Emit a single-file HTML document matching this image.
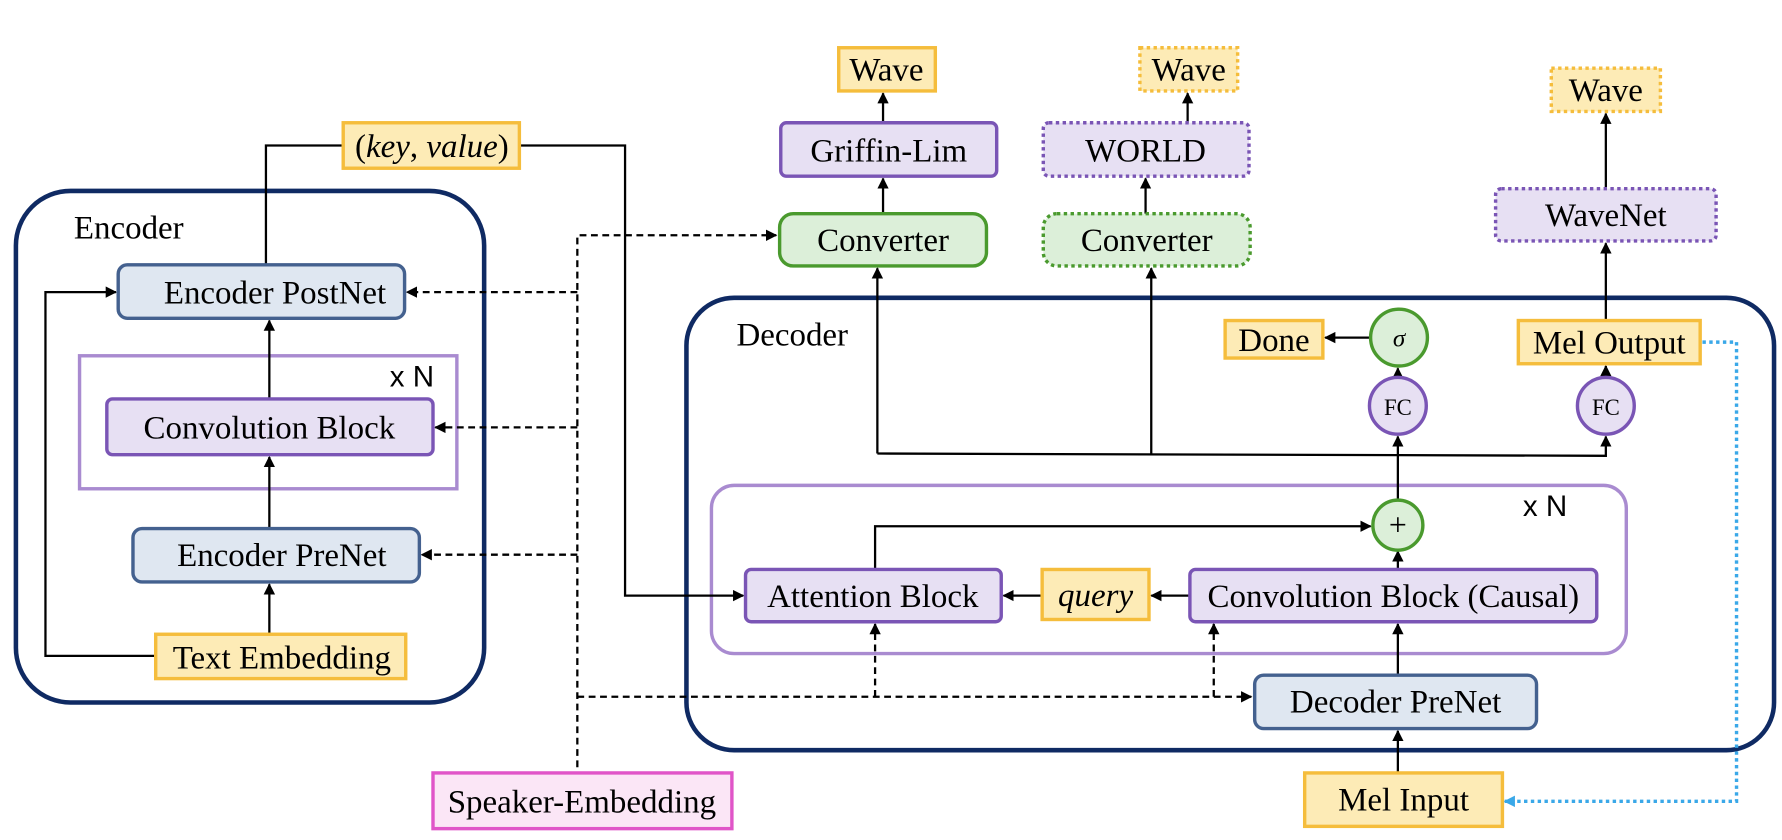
<!DOCTYPE html>
<html><head><meta charset="utf-8"><style>body{margin:0;background:#fff}svg{display:block}</style></head><body>
<svg width="1782" height="840" viewBox="0 0 1568 739" preserveAspectRatio="none" xmlns="http://www.w3.org/2000/svg" font-family="Liberation Serif, serif" font-size="29">
<defs>
<marker id="a" markerWidth="10" markerHeight="10" refX="9" refY="5" orient="auto" markerUnits="userSpaceOnUse"><path d="M0,0 L10,5 L0,10 z" fill="#000"/></marker>
<marker id="b" markerWidth="10" markerHeight="10" refX="9" refY="5" orient="auto" markerUnits="userSpaceOnUse"><path d="M0,0 L10,5 L0,10 z" fill="#3aa8e8"/></marker>
</defs>
<rect x="14" y="168" width="412" height="450" rx="48" fill="none" stroke="#0f2a63" stroke-width="4"/>
<text x="65" y="210" font-size="29">Encoder</text>
<rect x="604" y="262" width="957" height="398" rx="42" fill="none" stroke="#0f2a63" stroke-width="4"/>
<text x="648" y="304" font-size="29">Decoder</text>
<rect x="70" y="313" width="332" height="117" fill="none" stroke="#a98bd0" stroke-width="3"/>
<text x="343" y="340" font-family="Liberation Sans, sans-serif" font-size="26">x N</text>
<rect x="626" y="427" width="805" height="148" rx="20" fill="none" stroke="#a98bd0" stroke-width="3"/>
<text x="1340" y="454" font-family="Liberation Sans, sans-serif" font-size="26">x N</text>

<g stroke="#000" stroke-width="2" fill="none">
<path d="M234,233 V128 H302"/>
<path d="M457,128 H550 V524 H654" marker-end="url(#a)"/>
<path d="M237,351 V282" marker-end="url(#a)"/>
<path d="M237,465 V402" marker-end="url(#a)"/>
<path d="M237,558 V514" marker-end="url(#a)"/>
<path d="M137,577 H40 V257 H102" marker-end="url(#a)"/>
<g stroke-dasharray="6,4">
<path d="M508,685 V207 H683" marker-end="url(#a)"/>
<path d="M508,257 H358" marker-end="url(#a)"/>
<path d="M508,376 H383" marker-end="url(#a)"/>
<path d="M508,488 H371" marker-end="url(#a)"/>
<path d="M508,613 H1101" marker-end="url(#a)"/>
<path d="M770,613 V549" marker-end="url(#a)"/>
<path d="M1068,613 V549" marker-end="url(#a)"/>
</g>
<path d="M777,188 V157" marker-end="url(#a)"/>
<path d="M777,108 V82" marker-end="url(#a)"/>
<path d="M1008,188 V157" marker-end="url(#a)"/>
<path d="M1045,108 V82" marker-end="url(#a)"/>
<path d="M1413,166 V100" marker-end="url(#a)"/>
<path d="M1413,282 V214" marker-end="url(#a)"/>
<path d="M772,399 V236" marker-end="url(#a)"/>
<path d="M1013,399 V236" marker-end="url(#a)"/>
<path d="M772,399 L1413,401 V384" marker-end="url(#a)"/>
<path d="M1230,439 V384" marker-end="url(#a)"/>
<path d="M1230,332 V324" marker-end="url(#a)"/>
<path d="M1206,297 H1166" marker-end="url(#a)"/>
<path d="M1413,332 V322" marker-end="url(#a)"/>
<path d="M1230,501 V485" marker-end="url(#a)"/>
<path d="M770,501 V463 H1206" marker-end="url(#a)"/>
<path d="M1047,524 H1013" marker-end="url(#a)"/>
<path d="M917,524 H883" marker-end="url(#a)"/>
<path d="M1230,594 V549" marker-end="url(#a)"/>
<path d="M1230,680 V643" marker-end="url(#a)"/>
</g>
<path d="M1498,301 H1528 V705 H1324" fill="none" stroke="#3aa8e8" stroke-width="3" stroke-dasharray="3,3" marker-end="url(#b)"/>

<g stroke-width="3">
<rect x="302" y="108" width="155" height="40" fill="#fdebb6" stroke="#f5bd3c"/>
<rect x="104" y="233" width="252" height="47" rx="8" fill="#dfe7f1" stroke="#44618f"/>
<rect x="94" y="351" width="287" height="49" rx="5" fill="#e7e0f3" stroke="#7a55b5"/>
<rect x="117" y="465" width="252" height="47" rx="8" fill="#dfe7f1" stroke="#44618f"/>
<rect x="137" y="558" width="220" height="39" fill="#fdebb6" stroke="#f5bd3c"/>
<rect x="381" y="680" width="263" height="49" fill="#fbe6f6" stroke="#e055c8"/>
<rect x="738" y="42" width="85" height="38" fill="#fdebb6" stroke="#f5bd3c"/>
<rect x="687" y="108" width="190" height="47" rx="5" fill="#e7e0f3" stroke="#7a55b5"/>
<rect x="686" y="188" width="182" height="46" rx="12" fill="#dcefd9" stroke="#4a9a2e"/>
<rect x="1003" y="42" width="86" height="38" fill="#fdebb6" stroke="#f5bd3c" stroke-dasharray="3,3"/>
<rect x="918" y="108" width="181" height="47" rx="5" fill="#e7e0f3" stroke="#7a55b5" stroke-dasharray="3,3"/>
<rect x="918" y="188" width="182" height="46" rx="12" fill="#dcefd9" stroke="#4a9a2e" stroke-dasharray="3,3"/>
<rect x="1365" y="60" width="96" height="38" fill="#fdebb6" stroke="#f5bd3c" stroke-dasharray="3,3"/>
<rect x="1316" y="166" width="194" height="46" rx="5" fill="#e7e0f3" stroke="#7a55b5" stroke-dasharray="3,3"/>
<rect x="1078" y="282" width="86" height="33" fill="#fdebb6" stroke="#f5bd3c"/>
<rect x="1336" y="282" width="160" height="38" fill="#fdebb6" stroke="#f5bd3c"/>
<circle cx="1231" cy="297" r="25" fill="#dcefd9" stroke="#4a9a2e"/>
<circle cx="1230" cy="357" r="25" fill="#e7e0f3" stroke="#7a55b5"/>
<circle cx="1413" cy="357" r="25" fill="#e7e0f3" stroke="#7a55b5"/>
<circle cx="1230" cy="462" r="22" fill="#dcefd9" stroke="#4a9a2e"/>
<rect x="656" y="501" width="225" height="46" rx="5" fill="#e7e0f3" stroke="#7a55b5"/>
<rect x="917" y="501" width="94" height="44" fill="#fdebb6" stroke="#f5bd3c"/>
<rect x="1047" y="501" width="358" height="46" rx="5" fill="#e7e0f3" stroke="#7a55b5"/>
<rect x="1104" y="594" width="248" height="47" rx="8" fill="#dfe7f1" stroke="#44618f"/>
<rect x="1148" y="680" width="174" height="47" fill="#fdebb6" stroke="#f5bd3c"/>
</g>

<g text-anchor="middle">
<text x="380" y="138">(<tspan font-style="italic">key</tspan>, <tspan font-style="italic">value</tspan>)</text>
<text x="242" y="267">Encoder PostNet</text>
<text x="237" y="386">Convolution Block</text>
<text x="248" y="498">Encoder PreNet</text>
<text x="248" y="588">Text Embedding</text>
<text x="512" y="715">Speaker-Embedding</text>
<text x="780" y="71">Wave</text>
<text x="782" y="142">Griffin-Lim</text>
<text x="777" y="221">Converter</text>
<text x="1046" y="71">Wave</text>
<text x="1008" y="142">WORLD</text>
<text x="1009" y="221">Converter</text>
<text x="1413" y="89">Wave</text>
<text x="1413" y="199">WaveNet</text>
<text x="1121" y="309">Done</text>
<text x="1416" y="311">Mel Output</text>
<text x="1231" y="305" font-style="italic" font-size="22">σ</text>
<text x="1230" y="365" font-size="20">FC</text>
<text x="1413" y="365" font-size="20">FC</text>
<text x="1230" y="471" font-size="28">+</text>
<text x="768" y="534">Attention Block</text>
<text x="964" y="533" font-style="italic">query</text>
<text x="1226" y="534">Convolution Block (Causal)</text>
<text x="1228" y="627">Decoder PreNet</text>
<text x="1235" y="713">Mel Input</text>
</g>
</svg>
</body></html>
